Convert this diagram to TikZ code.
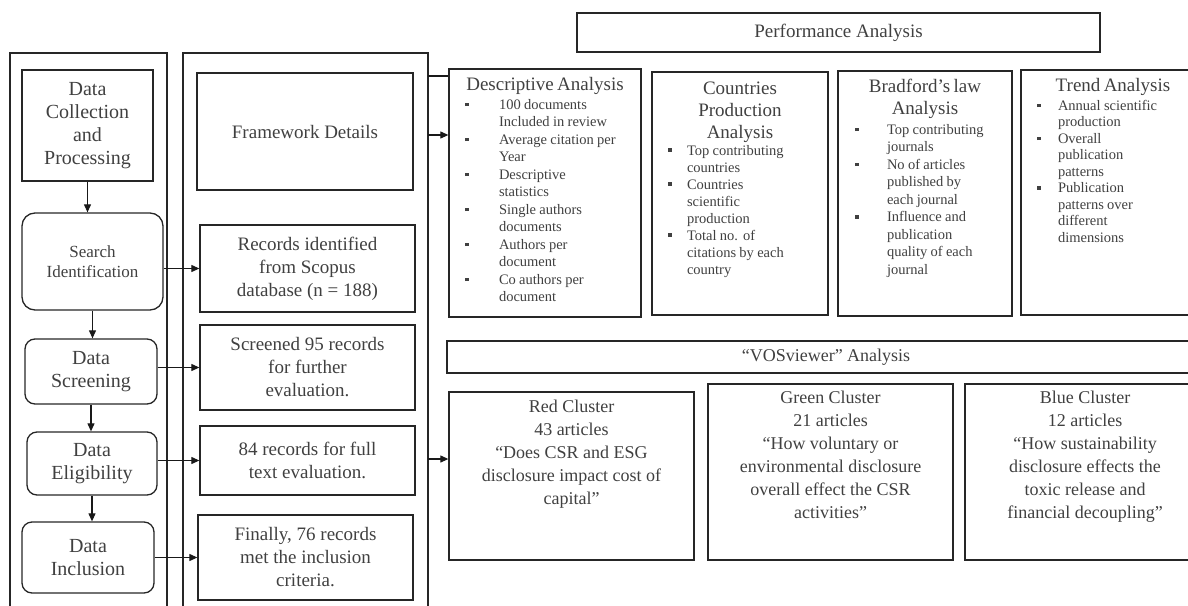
\documentclass[tikz,border=0pt]{standalone}
\usepackage{fontspec}
\setmainfont{Liberation Serif}
\usetikzlibrary{arrows.meta}
\newlength\bA
\newlength\bB
\newcommand\bul[1]{\par\noindent\hbox to \bB{\hspace*{\bA}\raisebox{0.22em}{\rule{3.5pt}{3.5pt}}\hfil}\parbox[t]{\dimexpr\linewidth-\bB\relax}{\raggedright\strut #1\strut}\par}
\newcommand\Tfont{\fontsize{19}{22}\selectfont}
\newcommand\Bfont[1]{\fontsize{14.5}{#1}\selectfont\lineskip=0pt\lineskiplimit=0pt\raggedright}
\begin{document}
\begin{tikzpicture}[x=1pt,y=-1pt,
  frame/.style={line width=1.1pt, draw=black!85},
  bx/.style={draw=black!85, line width=1.3pt, inner sep=0pt, text=black!75, align=center},
  rbx/.style={bx, rounded corners=13pt},
  arr/.style={line width=1.1pt, draw=black!90, -{Triangle[length=8pt,width=7pt]}},
  ln/.style={line width=1.1pt, draw=black!90},
  txt/.style={text=black!75, inner sep=0pt, align=left},
  big/.style={font=\fontsize{20}{23}\selectfont},
  mid/.style={font=\fontsize{19}{23}\selectfont},
  clu/.style={font=\fontsize{18}{23}\selectfont},
]
\useasboundingbox (0,0) rectangle (1188,605);
% frames
\draw[frame] (10,615) -- (10,53) -- (167,53) -- (167,615);
\draw[frame] (183,615) -- (183,53) -- (428,53) -- (428,615);
\coordinate (fA) at (428,76);
\coordinate (fB) at (428,135);
\coordinate (fC) at (428,459);
% left column
\node[bx, big, minimum width=131, minimum height=111] (dcp) at (87.5,125.5) {Data\\Collection\\and\\Processing};
\node[rbx, font=\fontsize{17}{20}\selectfont, minimum width=141, minimum height=97] (search) at (92.5,261.5) {Search\\Identification};
\node[rbx, big, rounded corners=10pt, minimum width=132, minimum height=65] (screen) at (91,371.5) {Data\\Screening};
\node[rbx, big, rounded corners=10pt, minimum width=130, minimum height=63] (elig) at (92,463.5) {Data\\Eligibility};
\node[rbx, big, rounded corners=10pt, minimum width=132, minimum height=71] (incl) at (88,557.5) {Data\\Inclusion};
\draw[arr] (dcp.south) -- (dcp.south |- search.north);
\draw[arr] (search.south) -- (search.south |- screen.north);
\draw[arr] (screen.south) -- (screen.south |- elig.north);
\draw[arr] (elig.south) -- (elig.south |- incl.north);
% middle column
\node[bx, mid, minimum width=216, minimum height=117] (fw) at (305,131.5) {Framework Details};
\node[bx, mid, minimum width=215, minimum height=87] (rec) at (307.5,268.5) {Records identified\\from Scopus\\database (n = 188)};
\node[bx, mid, minimum width=215, minimum height=85] (scr2) at (307.5,367.5) {Screened 95 records\\for further\\evaluation.};
\node[bx, mid, minimum width=215, minimum height=69] (r84) at (307.5,460.5) {84 records for full\\text evaluation.};
\node[bx, mid, minimum width=215, minimum height=85] (fin) at (305.5,557.5) {Finally, 76 records\\met the inclusion\\criteria.};
\draw[arr] (rec.west -| search.east) -- (rec.west);
\draw[arr] (scr2.west -| screen.east) -- (scr2.west);
\draw[arr] (r84.west -| elig.east) -- (r84.west);
\draw[arr] (fin.west -| incl.east) -- (fin.west);
% performance analysis
\node[bx, font=\fontsize{19}{22}\selectfont, minimum width=523, minimum height=39] (perf) at (838.5,32.5) {Performance Analysis};
\node[bx, minimum width=192, minimum height=248] (desc) at (545,193) {};
\node[bx, minimum width=176, minimum height=243] (ctry) at (740,193.5) {};
\node[bx, minimum width=174, minimum height=245] (brad) at (925,193.5) {};
\node[bx, minimum width=184, minimum height=245] (trend) at (1113,192.5) {};
\draw[ln] (fA) -- (fA -| desc.west);
\draw[arr] (fB) -- (fB -| desc.west);
\node[txt, text width=192, anchor=north, yshift=-9pt] (descT) at (desc.north) {%
  {\centering\Tfont Descriptive Analysis\par}\vspace{1pt}%
  \setlength\bA{16pt}\setlength\bB{50pt}\Bfont{17.5}
  \bul{100 documents\\Included in review}
  \bul{Average citation per\\Year}
  \bul{Descriptive\\statistics}
  \bul{Single authors\\documents}
  \bul{Authors per\\document}
  \bul{Co authors per\\document}};
\node[txt, text width=176, anchor=north, yshift=-10pt] (ctryT) at (ctry.north) {%
  {\centering\Tfont Countries\\Production\\Analysis\par}\vspace{0pt}%
  \setlength\bA{16pt}\setlength\bB{35pt}\Bfont{17}
  \bul{Top contributing\\countries}
  \bul{Countries\\scientific\\production}
  \bul{Total no. of\\citations by each\\country}};
\node[txt, text width=174, anchor=north, yshift=-9pt] (bradT) at (brad.north) {%
  {\centering\Tfont Bradford’s law\\Analysis\par}\vspace{2pt}%
  \setlength\bA{17pt}\setlength\bB{49pt}\Bfont{17.5}
  \bul{Top contributing\\journals}
  \bul{No of articles\\published by\\each journal}
  \bul{Influence and\\publication\\quality of each\\journal}};
\node[txt, text width=184, anchor=north, yshift=-9pt] (trendT) at (trend.north) {%
  {\centering\Tfont Trend Analysis\par}\vspace{2pt}%
  \setlength\bA{16pt}\setlength\bB{37pt}\Bfont{16.5}
  \bul{Annual scientific\\production}
  \bul{Overall\\publication\\patterns}
  \bul{Publication\\patterns over\\different\\dimensions}};
% VOSviewer analysis
\node[bx, font=\fontsize{18}{22}\selectfont, minimum width=758, minimum height=32] (vos) at (826,357) {“VOSviewer” Analysis};
\node[bx, minimum width=245, minimum height=168] (red) at (571.5,476) {};
\node[bx, minimum width=245, minimum height=176] (green) at (830.5,472) {};
\node[bx, minimum width=240, minimum height=176] (blue) at (1085,472) {};
\draw[arr] (fC) -- (fC -| red.west);
\node[txt, clu, align=center, anchor=north, yshift=-8.5pt] (redT) at (red.north) {Red Cluster\\43 articles\\“Does CSR and ESG\\disclosure impact cost of\\capital”};
\node[txt, clu, align=center, anchor=north, yshift=-7.5pt] (greenT) at (green.north) {Green Cluster\\21 articles\\“How voluntary or\\environmental disclosure\\overall effect the CSR\\activities”};
\node[txt, clu, align=center, anchor=north, yshift=-7.5pt] (blueT) at (blue.north) {Blue Cluster\\12 articles\\“How sustainability\\disclosure effects the\\toxic release and\\financial decoupling”};
\end{tikzpicture}
\end{document}
